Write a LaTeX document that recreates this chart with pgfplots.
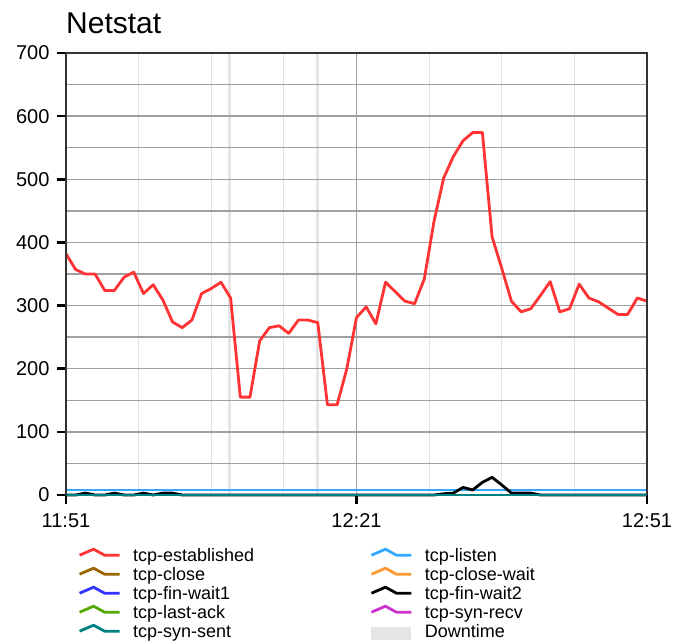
\documentclass[border=0pt]{standalone}
\usepackage{fontspec}
\setmainfont{Liberation Sans}
\usepackage{pgfplots}
\pgfplotsset{compat=1.18}
\definecolor{cEst}{HTML}{FF3333}
\definecolor{cClose}{HTML}{996600}
\definecolor{cFin1}{HTML}{3333FF}
\definecolor{cLast}{HTML}{55AA00}
\definecolor{cSyn}{HTML}{008080}
\definecolor{cListen}{HTML}{33AAFF}
\definecolor{cCloseW}{HTML}{FF9933}
\definecolor{cFin2}{HTML}{000000}
\definecolor{cRecv}{HTML}{CC33CC}
\definecolor{cDown}{HTML}{E5E5E5}
\definecolor{gridgray}{HTML}{A0A0A0}
\definecolor{gridlight}{HTML}{E2E2E2}
\definecolor{framegray}{HTML}{333333}
\begin{document}
\begin{tikzpicture}
\begin{axis}[
  name=ax, at={(66pt,146pt)}, anchor=south west,
  scale only axis, width=581pt, height=442pt,
  xmin=0, xmax=60, ymin=0, ymax=700,
  set layers, clip=false,
  axis line style={draw=none},
  xtick={0,30,60}, xticklabels={11:51,12:21,12:51},
  minor xtick={7.5,15,22.5,37.5,45,52.5},
  ytick={0,100,...,700}, minor ytick={50,150,...,650},
  tick pos=left, tick align=outside,
  major tick length=9pt, minor tick length=0pt,
  every tick/.append style={black, line width=2.5pt},
  xmajorgrids, xminorgrids, ymajorgrids, yminorgrids,
  major x grid style={color=gridgray, line width=1.3pt},
  minor x grid style={color=gridlight, line width=1.2pt},
  major y grid style={color=gridgray, line width=1.3pt},
  minor y grid style={color=gridgray, line width=1.3pt},
  ticklabel style={font=\fontsize{20}{24}\selectfont},
  yticklabel style={xshift=-4pt},
  xticklabel style={yshift=-6pt},
  /pgf/number format/assume math mode=true,
  legend columns=2, legend cell align=left,
  legend image code/.code={\draw[#1, line width=2.8pt, line join=round] (0pt,2pt) -- (14pt,8pt) -- (25pt,2pt) -- (40pt,2pt);},
  legend style={at={(0,0)}, anchor=north west, xshift=12pt, yshift=-52.5pt,
    draw=none, fill=none, inner sep=0pt, font=\fontsize{18}{19}\selectfont,
    row sep=0pt, column sep=12pt,
    nodes={inner sep=0pt, text height=14pt, text depth=5pt, anchor=west},
    /tikz/every even column/.append style={column sep=116pt}},
  every axis plot post/.append style={line width=2.8pt, line join=round},
]
\addplot[cEst] coordinates {
(0,382) (1,357) (2,350) (3,350) (4,324) (5,324) (6,345) (7,353) (8,319) (9,333)
(10,309) (11,274) (12,265) (13,277) (14,319) (15,327) (16,337) (17,312) (18,155) (19,155)
(20,244) (21,265) (22,268) (23,256) (24,277) (25,277) (26,273) (27,143) (28,143) (29,200)
(30,281) (31,298) (32,271) (33,337) (34,322) (35,307) (36,303) (37,342) (38,433) (39,502)
(40,536) (41,561) (42,574) (43,574) (44,409) (45,359) (46,307) (47,290) (48,295) (49,316)
(50,338) (51,290) (52,295) (53,334) (54,312) (55,306) (56,296) (57,286) (58,286) (59,312)
(60,307)};
\addlegendentry{tcp-established}
\addplot[cListen] coordinates {(0,8) (60,8)};
\addlegendentry{tcp-listen}
\addplot[cClose] coordinates {(0,0) (60,0)};
\addlegendentry{tcp-close}
\addplot[cCloseW] coordinates {(0,0) (60,0)};
\addlegendentry{tcp-close-wait}
\addplot[cFin1] coordinates {(0,0) (60,0)};
\addlegendentry{tcp-fin-wait1}
\addplot[cFin2] coordinates {
(0,0) (1,0) (2,3) (3,0) (4,0) (5,3) (6,0) (7,0) (8,3) (9,0) (10,3) (11,3) (12,0)
(38,0) (39,2) (40,3) (41,12) (42,8) (43,20) (44,28) (45,16) (46,3) (47,3) (48,3) (49,0) (60,0)};
\addlegendentry{tcp-fin-wait2}
\addplot[cLast] coordinates {(0,0) (60,0)};
\addlegendentry{tcp-last-ack}
\addplot[cRecv] coordinates {(0,0) (60,0)};
\addlegendentry{tcp-syn-recv}
\addplot[cSyn] coordinates {(0,0) (60,0)};
\addlegendentry{tcp-syn-sent}
\addplot[on layer=axis background, fill=cDown, draw=none, line width=0pt,
  legend image code/.code={\fill[cDown] (0pt,-6.5pt) rectangle (40pt,6.5pt);}]
  coordinates {(16.72,0) (16.72,700) (17.02,700) (17.02,0)} -- cycle;
\addlegendentry{Downtime}
\addplot[on layer=axis background, fill=cDown, draw=none, forget plot]
  coordinates {(25.81,0) (25.81,700) (26.11,700) (26.11,0)} -- cycle;
\end{axis}
\draw[framegray, line width=2.5pt] (ax.south west) -- (ax.north west) -- (ax.north east) -- (ax.south east);
\node[anchor=base west, inner sep=0pt, font=\fontsize{30}{36}\selectfont] at ([yshift=20pt]ax.north west) {Netstat};
\pgfresetboundingbox
\path[use as bounding box] (0,0) rectangle (674pt,641pt);
\end{tikzpicture}
\end{document}
